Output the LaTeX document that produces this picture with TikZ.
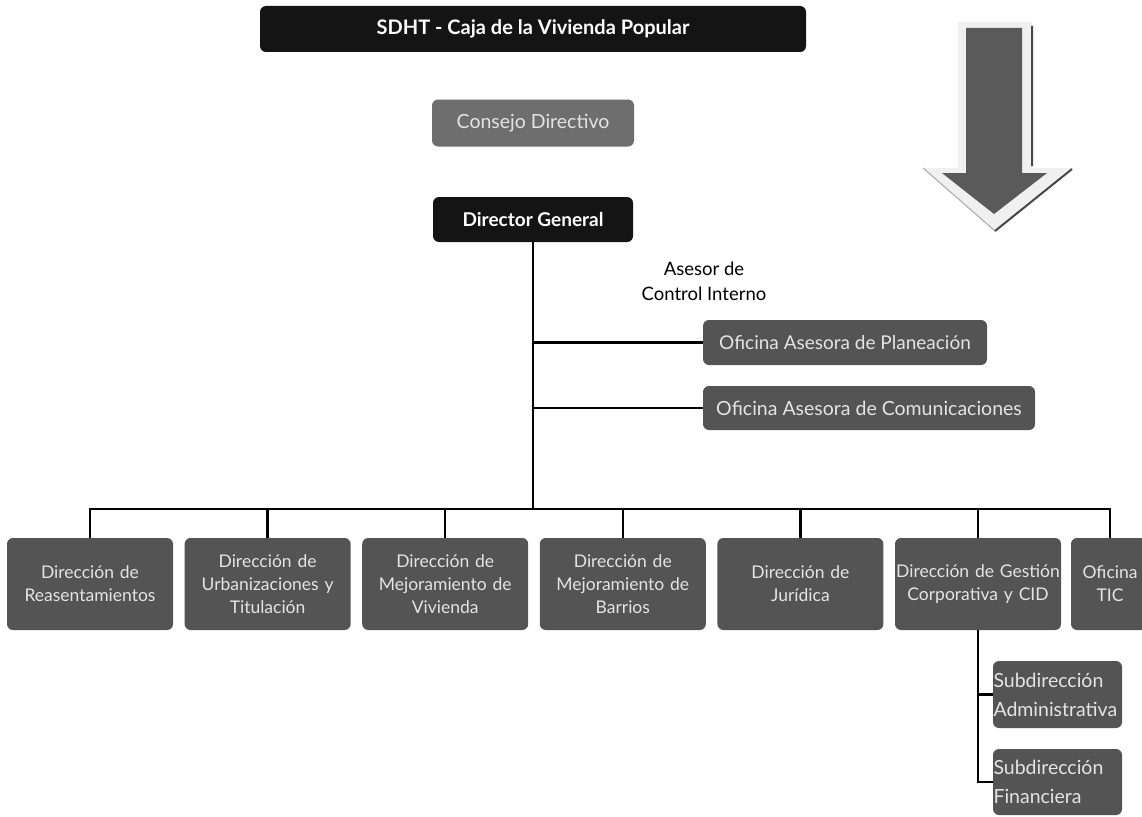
\documentclass[tikz,border=0pt]{standalone}
\usepackage{fontspec}
\setmainfont{Lato}
\definecolor{boxblack}{HTML}{141414}
\definecolor{boxgray}{HTML}{545454}
\definecolor{boxlight}{HTML}{6E6E6E}
\definecolor{txtgray}{HTML}{E4E4E4}
\definecolor{arrowgray}{HTML}{5A5A5A}
\begin{document}
\begin{tikzpicture}[x=1pt,y=-1pt,
  box/.style={rounded corners=6pt, inner sep=0pt, align=center},
  blackbox/.style={box, fill=boxblack, text=white, font=\bfseries\fontsize{19}{22}\selectfont},
  lightbox/.style={box, fill=boxlight, text=txtgray, font=\fontsize{19.5}{23}\selectfont},
  ofibox/.style={box, fill=boxgray, text=txtgray, font=\fontsize{19}{22}\selectfont},
  dirbox/.style={box, fill=boxgray, text=txtgray, minimum width=166pt, minimum height=92pt, text width=166pt, font=\fontsize{17.5}{23}\selectfont},
  subbox/.style={box, fill=boxgray, text=txtgray, minimum width=129pt, text width=128pt, align=left, font=\fontsize{19.5}{29}\selectfont},
  conn/.style={line width=2.4pt, black},
  plain/.style={align=center, text=black, font=\fontsize{18.5}{25}\selectfont}
]
\useasboundingbox (0,0) rectangle (1142,816);
\fill[white] (0,0) rectangle (1142,816);

% arrow
\fill[gray!12] (958,22) -- (1032,22) -- (1032,168) -- (1072,168) -- (995,231) -- (923,168) -- (958,168) -- cycle;
\draw[gray!70, line width=1pt] (923,168) -- (995,231);
\draw[gray!55!black, line width=2pt] (1032,26) -- (1032,166) (1072,169) -- (995,231);
\fill[arrowgray] (966,28) -- (1022,28) -- (1022,173) -- (1047,173) -- (994,214) -- (942,173) -- (966,173) -- cycle;

% nodes
\node[blackbox, minimum width=546pt, minimum height=46pt, font=\bfseries\fontsize{20}{23}\selectfont] (top) at (533,29) {SDHT - Caja de la Vivienda Popular};
\node[lightbox, minimum width=202pt, minimum height=47pt] (cd) at (533,123) {Consejo Directivo};
\node[blackbox, minimum width=200pt, minimum height=45pt] (dg) at (533,219.5) {Director General};
\node[plain] (aci) at (704,281) {Asesor de\\Control Interno};
\node[ofibox, minimum width=284pt, minimum height=45pt] (ofp) at (845,342.5) {Oficina Asesora de Planeación};
\node[ofibox, minimum width=332pt, minimum height=44pt, font=\fontsize{19.5}{22}\selectfont] (ofc) at (869,408) {Oficina Asesora de Comunicaciones};

\node[dirbox] (b1) at (90,584) {Dirección de\\Reasentamientos};
\node[dirbox] (b2) at (267.6,584) {Dirección de\\Urbanizaciones y\\Titulación};
\node[dirbox] (b3) at (445.2,584) {Dirección de\\Mejoramiento de\\Vivienda};
\node[dirbox] (b4) at (622.8,584) {Dirección de\\Mejoramiento de\\Barrios};
\node[dirbox] (b5) at (800.4,584) {Dirección de\\Jurídica};
\node[dirbox] (b6) at (978,584) {Dirección de Gestión\\Corporativa y CID};
\node[dirbox, minimum width=78pt, text width=76pt] (b7) at (1110,584) {Oficina\\TIC};

\node[subbox, minimum height=67pt] (sa) at (1057.5,694.5) {Subdirección\\Administrativa};
\node[subbox, minimum height=66pt] (sf) at (1057.5,782) {Subdirección\\Financiera};

% connectors
\coordinate (bus) at (533,509);
\draw[conn] (dg.south) -- (bus);
\draw[conn] (b1.north) |- (bus) -| (b7.north);
\foreach \b in {b2,b3,b4,b5,b6} \draw[conn] (\b.north) -- (\b.north |- bus);
\draw[conn] (dg.south |- ofp.west) -- (ofp.west);
\draw[conn] (dg.south |- ofc.west) -- (ofc.west);
\draw[conn] (b6.south) |- (sa.west);
\draw[conn] (b6.south) |- (sf.west);
\end{tikzpicture}
\end{document}
